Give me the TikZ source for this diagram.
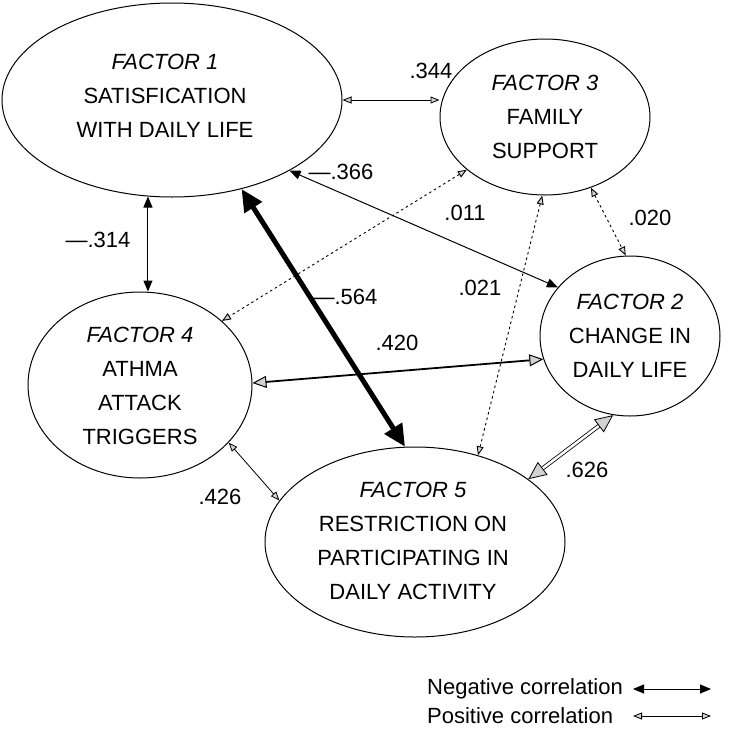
\documentclass[tikz,border=0pt]{standalone}
\usepackage{fontspec}
\setmainfont{Liberation Sans}
\usetikzlibrary{shapes.geometric,arrows.meta}
\begin{document}
\begin{tikzpicture}[x=1pt,y=-1pt,
  fac/.style={ellipse, draw, line width=1pt, inner sep=0pt},
  ftext/.style={align=center, font=\fontsize{22}{34}\selectfont, inner sep=0pt},
  lab/.style={font=\fontsize{22}{24}\selectfont, inner sep=0pt},
  negarr/.style={line width=1pt, {Triangle[length=11pt,width=9pt]}-{Triangle[length=11pt,width=9pt]}},
  posarr/.style={line width=0.8pt, {Triangle[length=9pt,width=7pt,fill=gray!35]}-{Triangle[length=9pt,width=7pt,fill=gray!35]}},
  dotarr/.style={posarr, line width=0.9pt, dash pattern=on 2.5pt off 3pt},
]
\useasboundingbox (0,0) rectangle (756,729);

% ellipses
\node[fac, minimum width=340pt, minimum height=194pt] (f1) at (172,100) {};
\node[fac, minimum width=210pt, minimum height=156pt] (f3) at (545,117) {};
\node[fac, minimum width=224pt, minimum height=186pt] (f4) at (140,385) {};
\node[fac, minimum width=180pt, minimum height=160pt] (f2) at (630,336) {};
\node[fac, minimum width=300pt, minimum height=190pt] (f5) at (415,542) {};

% texts
\node[ftext] (t1) at (165,96) {\textit{FACTOR 1}\\SATISFICATION\\WITH DAILY LIFE};
\node[ftext] (t3) at (545,117) {\textit{FACTOR 3}\\FAMILY\\SUPPORT};
\node[ftext] (t4) at (140,386) {\textit{FACTOR 4}\\ATHMA\\ATTACK\\TRIGGERS};
\node[ftext] (t2) at (630,336) {\textit{FACTOR 2}\\CHANGE IN\\DAILY LIFE};
\node[ftext] (t5) at (413,541) {\textit{FACTOR 5}\\RESTRICTION ON\\PARTICIPATING IN\\DAILY ACTIVITY};

% connectors
\draw[posarr] (f1.east) -- (f1.east -| f3.west);
\node[lab] (l344) at (431,71) {.344};

\draw[negarr] (f1.-31.4) -- (f2.146);
\node[lab] (l366) at (341,172) {\textemdash.366};

\draw[negarr] (f1.-104.6) -- (f1.-104.6 |- f4.north);
\node[lab] (l314) at (98,240) {\textemdash.314};

\draw[line width=5pt, {Triangle[length=22pt,width=20pt]}-{Triangle[length=22pt,width=20pt]}] (f1.-52.6) -- (f5.96.9);
\node[lab] (l564) at (345,297) {\textemdash.564};

\draw[dotarr] (f3.-146) -- (f4.38.8);
\node[lab] (l011) at (465,213) {.011};

\draw[dotarr] (f3.-92) -- (f5.54.5);
\node[lab] (l021) at (480,288) {.021};

\draw[dotarr] (f3.-57) -- (f2.93);
\node[lab] (l020) at (650,218) {.020};

\draw[line width=1.8pt, {Triangle[length=14pt,width=12pt,fill=gray!35,line width=1pt]}-{Triangle[length=14pt,width=12pt,fill=gray!35,line width=1pt]}] (f4.1.5) -- (f2.-165.5);
\node[lab] (l420) at (397,343) {.420};

\draw[posarr] (f4.-33) -- (f5.163.4);
\node[lab] (l426) at (220,497) {.426};

\draw[double, double distance=2.5pt, line width=0.8pt, {Triangle[length=18pt,width=16pt,fill=gray!35,line width=0.8pt]}-{Triangle[length=18pt,width=16pt,fill=gray!35,line width=0.8pt]}] (f5.29.9) -- (f2.-102);
\node[lab] (l626) at (587,470) {.626};

% legend
\node[lab, anchor=west] (lneg) at (427,689) {Negative correlation};
\coordinate (n1) at (633,689);
\coordinate (n2) at (711,689);
\draw[negarr] (n1) -- (n2);
\node[lab, anchor=west] (lpos) at (427,716) {Positive correlation};
\coordinate (p1) at (633,716);
\coordinate (p2) at (711,716);
\draw[posarr] (p1) -- (p2);
\end{tikzpicture}
\end{document}
